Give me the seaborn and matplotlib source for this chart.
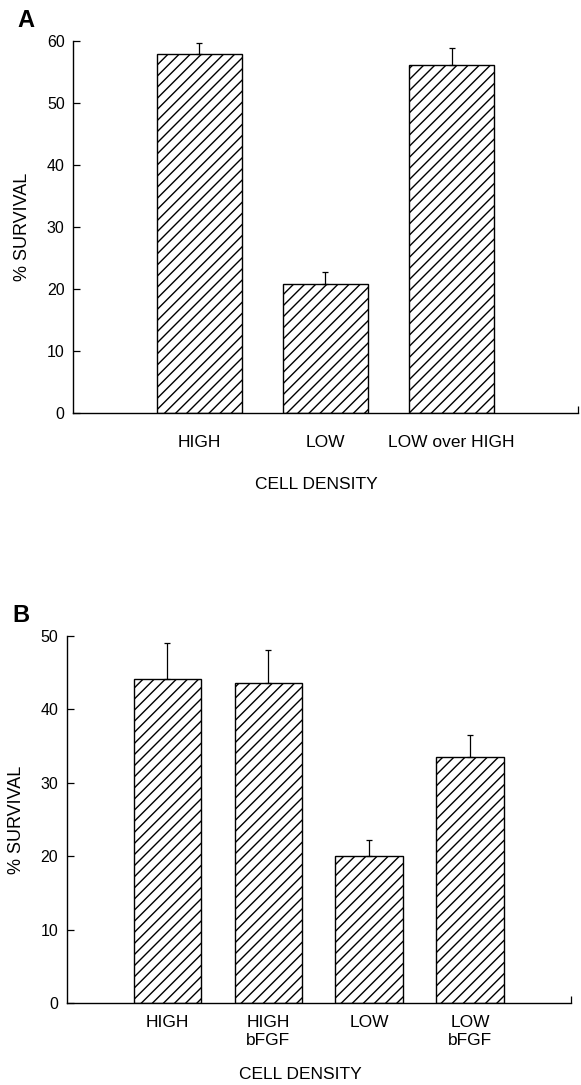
import matplotlib
matplotlib.use("Agg")
import matplotlib.pyplot as plt
import seaborn as sns
import pandas as pd

# Panel A: survival vs plating density
a_groups = ["HIGH", "LOW", "LOW over HIGH"]
a_labels = ["HIGH", "LOW", "LOW over HIGH"]
a_survival = [58.0, 20.8, 56.2]
a_sem = [1.8, 2.0, 2.8]
a_yticks = [0, 10, 20, 30, 40, 50, 60]

# Panel B: density with / without bFGF
b_groups = ["HIGH", "HIGH bFGF", "LOW", "LOW bFGF"]
b_labels = ["HIGH", "HIGH\nbFGF", "LOW", "LOW\nbFGF"]
b_survival = [44.1, 43.6, 20.0, 33.5]
b_sem = [4.9, 4.5, 2.2, 3.0]
b_yticks = [0, 10, 20, 30, 40, 50]

sns.set_style("ticks")
plt.rcParams['font.family'] = ['Liberation Sans', 'DejaVu Sans']
plt.rcParams['hatch.linewidth'] = 1.0
plt.rcParams['axes.linewidth'] = 1.0
for key in ['text.color', 'axes.labelcolor', 'xtick.color', 'ytick.color', 'axes.edgecolor']:
    plt.rcParams[key] = 'black'


def draw_panel(ax, groups, labels, vals, errs, yticks, tick_pad, xlab_xy):
    df = pd.DataFrame({"group": groups, "survival": vals})
    sns.barplot(data=df, x="group", y="survival", ax=ax, color="white",
                edgecolor="black", linewidth=1.0, hatch="///", width=0.67,
                errorbar=None, saturation=1)
    xs = [p.get_x() + p.get_width() / 2 for p in ax.patches]
    ax.errorbar(xs, vals, yerr=[[0] * len(vals), errs], fmt="none",
                ecolor="black", elinewidth=0.9, capsize=2.5, capthick=0.9, zorder=5)

    n = len(groups)
    ax.set_xlim(-1, n)
    ax.set_ylim(0, yticks[-1])
    ax.set_yticks(yticks)
    ax.set_xticks(range(n))
    ax.set_xticklabels(labels)
    ax.set_xticks([n], minor=True)
    ax.tick_params(axis="x", which="major", length=0, pad=tick_pad, labelsize=12.5)
    ax.tick_params(axis="x", which="minor", direction="in", length=5, width=0.9)
    ax.tick_params(axis="y", direction="in", length=5, width=0.9, pad=6, labelsize=11.5)
    sns.despine(ax=ax)

    ax.set_xlabel("CELL DENSITY", fontsize=12.5)
    ax.xaxis.set_label_coords(*xlab_xy)
    ax.set_ylabel("% SURVIVAL", fontsize=13)
    ax.yaxis.set_label_coords(-0.083, 0.5)


fig = plt.figure(figsize=(5.81, 10.85), dpi=100)
ax_a = fig.add_axes([0.1256, 0.6194, 0.8692, 0.3424])
ax_b = fig.add_axes([0.1145, 0.0756, 0.8683, 0.3382])

draw_panel(ax_a, a_groups, a_labels, a_survival, a_sem, a_yticks, 16, (0.481, -0.172))
draw_panel(ax_b, b_groups, b_labels, b_survival, b_sem, b_yticks, 9, (0.463, -0.174))

fig.text(0.0448, 0.981, "A", fontsize=17, fontweight="bold", ha="center", va="center")
fig.text(0.036, 0.433, "B", fontsize=17, fontweight="bold", ha="center", va="center")

fig.savefig("out.png", dpi=100)
